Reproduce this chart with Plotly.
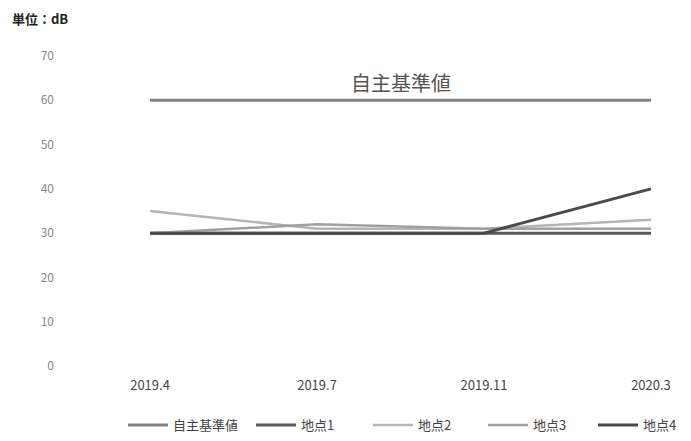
import plotly.graph_objects as go

categories = ["2019.4", "2019.7", "2019.11", "2020.3"]
series_names = ["自主基準値", "地点1", "地点2", "地点3", "地点4"]
standard = [60, 60, 60, 60]
site1 = [30, 30, 30, 30]
site2 = [35, 31, 31, 33]
site3 = [30, 32, 31, 31]
site4 = [30, 30, 30, 40]
y_ticks = [0, 10, 20, 30, 40, 50, 60, 70]

values = [standard, site1, site2, site3, site4]
colors = ["#828282", "#5a5a5a", "#b4b4b4", "#a0a0a0", "#4a4a4a"]
widths = [3, 3, 2.5, 2.5, 3]
legend_ids = ["legend", "legend2", "legend3", "legend4", "legend5"]
legend_px = [130, 258, 375, 490, 600]

fig = go.Figure()
for name, vals, c, w, lid in zip(series_names, values, colors, widths, legend_ids):
    fig.add_trace(go.Scatter(x=categories, y=vals, name=name, mode="lines",
                             line=dict(color=c, width=w), legend=lid))

fig.add_annotation(x=1.5, y=64, xref="x", yref="y", text="自主基準値", showarrow=False,
                   font=dict(size=20, color="#555555", family="Noto Sans CJK JP"))
fig.add_annotation(x=(10 - 140) / 521, y=(366 - 18) / 310, xref="paper", yref="paper",
                   xanchor="left", yanchor="middle", text="<b>単位：dB</b>",
                   showarrow=False, font=dict(size=13, color="#222222"))

legend_layout = {}
for lid, px in zip(legend_ids, legend_px):
    legend_layout[lid] = dict(orientation="h", xref="container", yref="container",
                              x=(px - 7) / 691, xanchor="left", y=1 - 425 / 441,
                              yanchor="middle", font=dict(size=13, color="#444444"),
                              itemwidth=40, bgcolor="rgba(0,0,0,0)")

fig.update_layout(
    width=691, height=441,
    margin=dict(l=140, r=30, t=56, b=75, autoexpand=False),
    plot_bgcolor="white", paper_bgcolor="white",
    font=dict(family="Noto Sans CJK JP", size=12, color="#666666"),
    showlegend=True,
    xaxis=dict(type="category", range=[-0.06, 3.06], showgrid=False, showline=False,
               zeroline=False, ticks="", ticklabelstandoff=10,
               tickfont=dict(size=13, color="#444444")),
    yaxis=dict(range=[0, 70], tickvals=y_ticks, showgrid=False, showline=False,
               zeroline=False, ticks="", ticklabelstandoff=85,
               tickfont=dict(size=12, color="#888888")),
    **legend_layout,
)
fig.write_html("out.html")
